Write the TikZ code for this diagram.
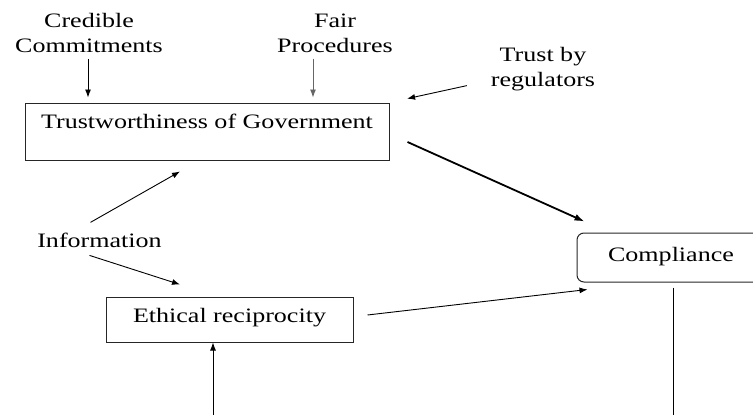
\documentclass[tikz,border=0pt]{standalone}
\usepackage{fontspec}
\setmainfont{Liberation Serif}[FakeStretch=1.27]
\usetikzlibrary{arrows.meta}

\begin{document}
\begin{tikzpicture}[x=1pt, y=-1pt,
    lbl/.style={font=\fontsize{20.5}{25}\selectfont, align=center, inner sep=0pt},
    box/.style={lbl, draw=black!85, line width=1pt, anchor=base},
    arr/.style={-{Latex[length=8pt,width=6pt]}, line width=0.9pt}]
  \useasboundingbox (0,0) rectangle (753,415);
  \clip (0,0) rectangle (753,415);
  % boxes
  \node[box, minimum width=364pt, text height=25.3pt, text depth=31.7pt] (trust) at (207,128.3) {Trustworthiness of Government};
  \node[box, minimum width=247pt, text height=25pt, text depth=20pt] (ethical) at (229.5,322) {Ethical reciprocity};
  \node[box, rounded corners=7pt, minimum width=188pt, text height=28.7pt, text depth=20.3pt] (compliance) at (671,261.7) {Compliance};
  % free labels
  \node[lbl] (credible) at (89,33) {Credible\\Commitments};
  \node[lbl] (fair) at (335,33) {Fair\\Procedures};
  \node[lbl] (regulators) at (543,69) {Trust by\\regulators};
  \node[lbl, anchor=base] (info) at (99.5,247) {Information};
  \coordinate (ethin) at (213,420);
  \coordinate (compout) at (673,420);
  % arrows into the top box
  \foreach \src/\dx/\col in {credible/-1/black, fair/-22/black!60} {
    \draw[arr, \col, shorten <=6pt, shorten >=5pt] ([xshift=\dx pt]\src.south) -- ([xshift=\dx pt]\src.south |- trust.north);
  }
  \draw[arr, shorten <=78pt, shorten >=18pt] (regulators.center) -- (trust.north east);
  \draw[arr] ([xshift=-9pt, yshift=10pt]info.north) -- ([xshift=-27pt, yshift=-11pt]trust.south);
  \draw[arr] ([xshift=-10pt, yshift=-8pt]info.south) -- ([xshift=-49.5pt, yshift=12pt]ethical.north);
  \draw[arr] (ethin) -- (ethin |- ethical.south);
  % arrows into compliance
  \draw[arr, line width=1.8pt, -{Latex[length=10pt,width=7pt]}] ([xshift=18pt, yshift=-10.5pt]trust.east) -- ([xshift=8pt, yshift=11pt]compliance.north west);
  \draw[arr] ([xshift=14pt, yshift=4.5pt]ethical.east) -- ([xshift=11pt, yshift=-7pt]compliance.south west);
  \draw[line width=0.9pt] (compout |- compliance.south) ++(0,5) -- (compout);
\end{tikzpicture}
\end{document}
